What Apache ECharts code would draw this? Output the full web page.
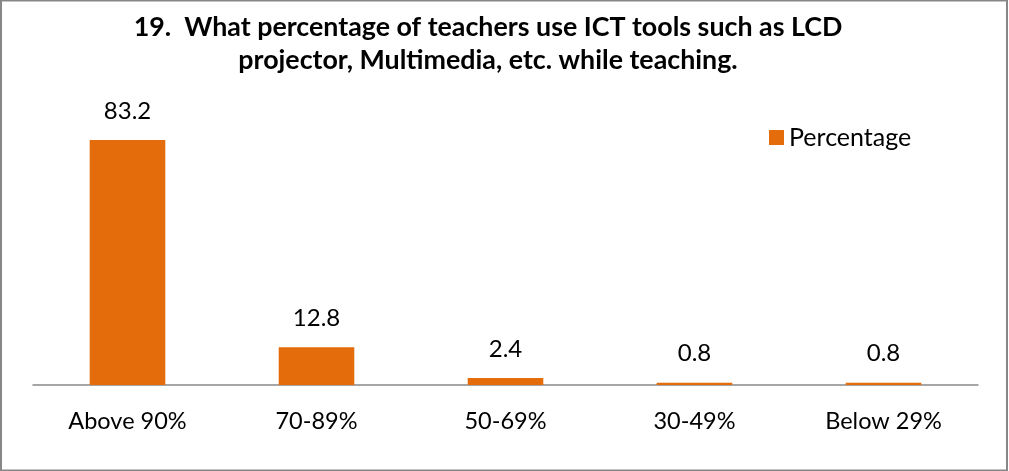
<!DOCTYPE html>
<html>
<head>
<meta charset="utf-8">
<script src="https://cdn.jsdelivr.net/npm/echarts@6/dist/echarts.min.js"></script>
<style>
html,body{margin:0;padding:0;background:#fff;}
#chart{width:1009px;height:471px;}
</style>
</head>
<body>
<div id="chart"></div>
<script>
var categories = ['Above 90%', '70-89%', '50-69%', '30-49%', 'Below 29%'];
var percentage = [83.2, 12.8, 2.4, 0.8, 0.8];
var titleText = '19.  What percentage of teachers use ICT tools such as LCD\nprojector, Multimedia, etc. while teaching.';
var seriesName = 'Percentage';

var FONT = 'Lato';
var chart = echarts.init(document.getElementById('chart'));
chart.setOption({
  backgroundColor: '#fff',
  animation: false,
  title: {
    text: titleText,
    left: 483,
    textAlign: 'center',
    top: 6,
    textStyle: {
      fontFamily: FONT, fontWeight: 'bold', fontSize: 26.8, color: '#000', lineHeight: 33
    }
  },
  legend: {
    data: [seriesName],
    left: 764,
    top: 120,
    itemWidth: 15,
    itemHeight: 15,
    itemGap: 6,
    icon: 'rect',
    textStyle: { fontFamily: FONT, fontSize: 25, color: '#000' }
  },
  grid: { left: 33, right: 31, top: 120, bottom: 86, containLabel: false },
  xAxis: {
    type: 'category',
    data: categories,
    axisLine: { lineStyle: { color: '#898989', width: 1.5 } },
    axisTick: { show: false },
    axisLabel: { fontFamily: FONT, fontSize: 23.5, color: '#000', margin: 24 }
  },
  yAxis: {
    type: 'value',
    min: 0,
    max: 90,
    show: false,
    splitLine: { show: false }
  },
  series: [{
    name: seriesName,
    type: 'bar',
    data: percentage,
    barWidth: '40%',
    itemStyle: { color: '#E46C0A' },
    label: {
      show: true,
      position: 'top',
      distance: 17,
      fontFamily: FONT, fontSize: 24, color: '#000'
    }
  }],
  graphic: [{
    type: 'rect',
    shape: { x: 1, y: 0.5, width: 1006, height: 470 },
    style: { fill: 'none', stroke: '#878787', lineWidth: 2 },
    silent: true
  }]
});
</script>
</body>
</html>
